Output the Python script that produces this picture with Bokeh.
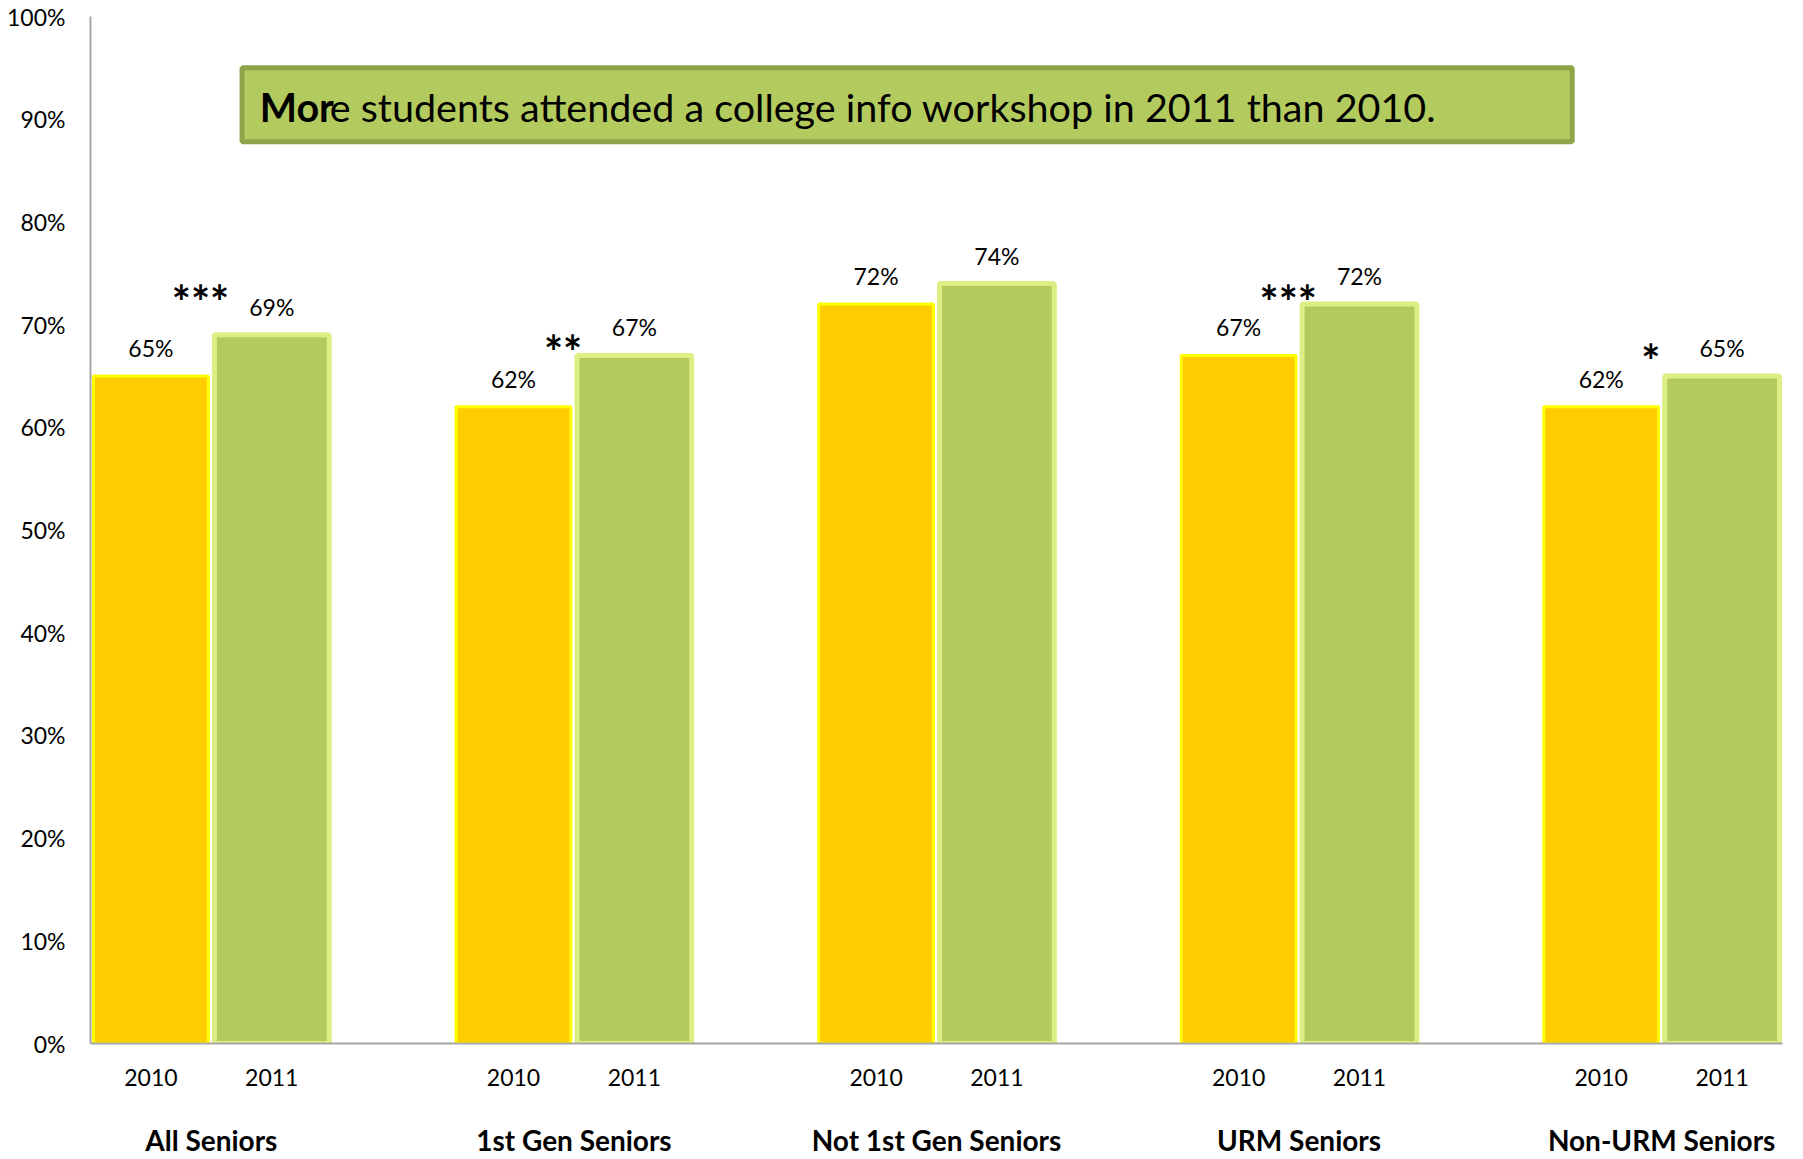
from bokeh.plotting import figure
from bokeh.models import (Range1d, FixedTicker, Label, LabelSet, BoxAnnotation,
                          ColumnDataSource, PrintfTickFormatter, LinearAxis)
from bokeh.core.properties import value
from bokeh.embed import file_html
from bokeh.resources import INLINE

# ---------------- data ----------------
groups = ["All Seniors", "1st Gen Seniors", "Not 1st Gen Seniors", "URM Seniors", "Non-URM Seniors"]
years = ["2010", "2011"]
pct_2010 = [65, 62, 72, 67, 62]
pct_2011 = [69, 67, 74, 72, 65]
significance = ["***", "**", "", "***", "*"]
y_ticks = [0, 10, 20, 30, 40, 50, 60, 70, 80, 90, 100]
headline_bold = "Mor"
headline_rest = "e students attended a college info workshop in 2011 than 2010."

# ---------------- layout helpers ----------------
n = len(groups)
x2010 = [3 * i + 0.5 for i in range(n)]
x2011 = [3 * i + 1.5 for i in range(n)]
centers = [3 * i + 1.0 for i in range(n)]

FONT = "Lato"

p = figure(width=1803, height=1159, x_range=Range1d(0, 3 * n - 1), y_range=Range1d(0, 100),
           output_backend="svg", toolbar_location=None,
           min_border_left=90, min_border_right=21, min_border_top=16, min_border_bottom=116)
p.outline_line_color = None
p.grid.visible = False
p.background_fill_color = "white"
p.border_fill_color = "white"

# bars
p.vbar(x=x2010, top=pct_2010, width=0.95, fill_color="#FFCC00",
       line_color="#FFFF00", line_width=3)
p.vbar(x=x2011, top=pct_2011, width=0.95, fill_color="#B3CB5E",
       line_color="#DDEE85", line_width=5)

# y axis
yax = p.yaxis[0]
yax.ticker = FixedTicker(ticks=y_ticks)
yax.formatter = PrintfTickFormatter(format="%d%%")
yax.major_label_text_font = FONT
yax.major_label_text_font_size = "23px"
yax.major_label_text_color = "black"
yax.major_label_standoff = 19
yax.major_tick_line_color = None
yax.minor_tick_line_color = None
yax.axis_line_color = "#A6A6A6"
yax.axis_line_width = 2

# x axis (years)
xax = p.xaxis[0]
year_ticks = []
year_over = {}
for a, b in zip(x2010, x2011):
    year_ticks += [a, b]
    year_over[float(a)] = years[0]
    year_over[float(b)] = years[1]
xax.ticker = FixedTicker(ticks=year_ticks)
xax.major_label_overrides = year_over
xax.major_label_text_font = FONT
xax.major_label_text_font_size = "23px"
xax.major_label_text_color = "black"
xax.major_label_standoff = 19
xax.major_tick_line_color = None
xax.minor_tick_line_color = None
xax.axis_line_color = "#A6A6A6"
xax.axis_line_width = 2

# second x axis (group names)
gax = LinearAxis(ticker=FixedTicker(ticks=centers),
                 major_label_overrides={float(c): g for c, g in zip(centers, groups)})
gax.major_label_text_font = FONT
gax.major_label_text_font_style = "bold"
gax.major_label_text_font_size = "28px"
gax.major_label_text_color = "black"
gax.major_label_standoff = 28
gax.major_tick_line_color = None
gax.minor_tick_line_color = None
gax.axis_line_color = None
p.add_layout(gax, "below")

# value labels
vals = []
xs = []
for a, b, v1, v2 in zip(x2010, x2011, pct_2010, pct_2011):
    xs += [a, b]
    vals += [v1, v2]
lab_src = ColumnDataSource(dict(x=xs, y=vals, t=[f"{v}%" for v in vals]))
p.add_layout(LabelSet(x="x", y="y", text="t", source=lab_src, text_align="center",
                      text_baseline="alphabetic", y_offset=19, text_font=value(FONT),
                      text_font_size=value("23px"), text_color="black"))

# significance stars (placed as in the original slide)
sig_y = [73.4, 68.5, 0, 73.4, 67.6]
sx, sy, st = [], [], []
for c, s, yy in zip(centers, significance, sig_y):
    if s:
        sx.append(c - 0.09)
        sy.append(yy)
        st.append(s)
sig_src = ColumnDataSource(dict(x=sx, y=sy, t=st))
p.add_layout(LabelSet(x="x", y="y", text="t", source=sig_src, text_align="center",
                      text_baseline="alphabetic", y_offset=-29, text_font=value(FONT),
                      text_font_style="bold", text_font_size=value("45px"), text_color="black"))

# headline box
p.add_layout(BoxAnnotation(left=1.254, right=12.26, top=95.0, bottom=87.8,
                           fill_color="#B3CB5E", fill_alpha=1.0,
                           line_color="#8FA449", line_width=5, line_alpha=1.0))
p.add_layout(Label(x=1.40, y=89.8, y_offset=15, text=headline_bold, text_baseline="alphabetic",
                   text_font=FONT, text_font_style="bold", text_font_size="39.5px",
                   text_color="black"))
p.add_layout(Label(x=1.40, y=89.8, y_offset=15, x_offset=70, text=headline_rest,
                   text_baseline="alphabetic",
                   text_font=FONT, text_font_size="39.5px", text_color="black"))

open("out.html", "w").write(file_html(p, INLINE))
